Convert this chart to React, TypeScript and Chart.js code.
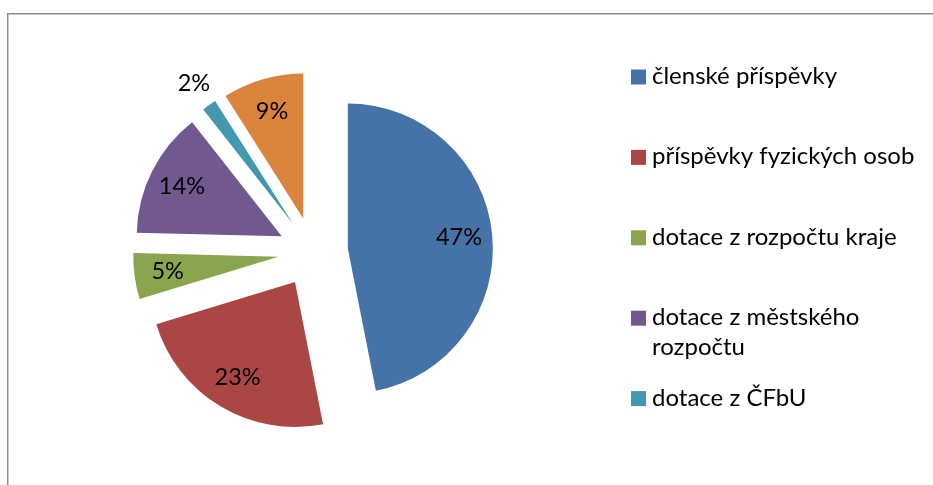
import React, { useEffect, useRef } from "react";
import { Chart, registerables } from "chart.js";

Chart.register(...registerables);

// ---- data ----
const categories = [
  "členské příspěvky",
  "příspěvky fyzických osob",
  "dotace z rozpočtu kraje",
  "dotace z městského rozpočtu",
  "dotace z ČFbU",
  "ostatní",
];
const values = [46.9, 23.4, 5.1, 14.0, 1.6, 9.0];
const colors = ["#4572A7", "#AA4643", "#89A54E", "#71588F", "#4198AF", "#DB843D"];
const legendVisibleCount = 5;

// ---- layout / style ----
const W = 933;
const H = 485;
const RADIUS = 145;
const EXPLODE = 35;
const FONT_FAMILY = "Lato, 'Liberation Sans', sans-serif";
const LABEL_FONT = `23.5px ${FONT_FAMILY}`;
const LEGEND_FONT = `24px ${FONT_FAMILY}`;
const LEG_X = 631;
const LEG_TOP = 77;
const LEG_STEP = 80.4;
const LEG_BOX = 15;
const LEG_TEXT_GAP = 6;
const LEG_LINE_H = 30;
const LEG_MAX_W = 276;

const total = values.reduce((a, b) => a + b, 0);

const framePlugin = {
  id: "frame",
  beforeDraw(chart: any) {
    const ctx = chart.ctx;
    ctx.save();
    ctx.fillStyle = "#ffffff";
    ctx.fillRect(0, 0, W, H);
    ctx.fillStyle = "#8c8c8c";
    ctx.fillRect(7, 13, W - 7, 1);
    ctx.fillRect(7, 13, 1, H - 13);
    ctx.fillStyle = "#c4c4c4";
    ctx.fillRect(8, 14, W - 8, 1);
    ctx.fillRect(8, 14, 1, H - 14);
    ctx.restore();
  },
};

// Chart.js grows an exploded arc's radius by r = (offset/4)*(1 - sin(c)) and trims its angle by r/(PI*R);
// undo both so every slice keeps the same radius and its true angle, only shifted outward.
const explodeFixPlugin = {
  id: "explodeFix",
  beforeDatasetsDraw(chart: any) {
    const meta = chart.getDatasetMeta(0);
    meta.data.forEach((arc: any) => {
      if (arc.$fixed) return;
      const c = arc.circumference;
      const fix = 1 - Math.sin(Math.min(Math.PI, c));
      const r = EXPLODE * fix;
      arc.outerRadius = RADIUS - r;
      const delta = r / (2 * Math.PI * RADIUS);
      arc.startAngle = arc.startAngle - delta;
      arc.endAngle = arc.endAngle + delta;
      arc.$fixed = true;
    });
  },
};

const labelPlugin = {
  id: "sliceLabels",
  afterDatasetsDraw(chart: any) {
    const ctx = chart.ctx;
    const meta = chart.getDatasetMeta(0);
    ctx.save();
    ctx.font = LABEL_FONT;
    ctx.fillStyle = "#000000";
    ctx.textAlign = "center";
    ctx.textBaseline = "middle";
    meta.data.forEach((arc: any, i: number) => {
      const { x, y, startAngle, endAngle } = arc;
      const mid = (startAngle + endAngle) / 2;
      const vx = x + Math.cos(mid) * EXPLODE;
      const vy = y + Math.sin(mid) * EXPLODE;
      const pct = (values[i] / total) * 100;
      const f = pct < 3 ? 1.18 : 0.77;
      const lx = vx + Math.cos(mid) * RADIUS * f;
      const ly = vy + Math.sin(mid) * RADIUS * f;
      ctx.fillText(`${Math.round(pct)}%`, lx, ly);
    });
    ctx.restore();
  },
};

function wrap(ctx: CanvasRenderingContext2D, text: string, maxW: number) {
  const words = text.split(" ");
  const lines: string[] = [];
  let cur = "";
  for (const w of words) {
    const t = cur ? cur + " " + w : w;
    if (cur && ctx.measureText(t).width > maxW) {
      lines.push(cur);
      cur = w;
    } else {
      cur = t;
    }
  }
  if (cur) lines.push(cur);
  return lines;
}

const legendPlugin = {
  id: "sideLegend",
  afterDraw(chart: any) {
    const ctx = chart.ctx;
    ctx.save();
    ctx.font = LEGEND_FONT;
    ctx.textAlign = "left";
    ctx.textBaseline = "alphabetic";
    for (let i = 0; i < Math.min(legendVisibleCount, categories.length); i++) {
      const cy = LEG_TOP + i * LEG_STEP;
      ctx.fillStyle = colors[i];
      ctx.fillRect(LEG_X, cy - LEG_BOX / 2, LEG_BOX, LEG_BOX);
      ctx.fillStyle = "#000000";
      const lines = wrap(ctx, categories[i], LEG_MAX_W);
      lines.forEach((ln, k) => {
        ctx.fillText(ln, LEG_X + LEG_BOX + LEG_TEXT_GAP, cy + 7 + k * LEG_LINE_H);
      });
    }
    ctx.restore();
  },
};

export default function App() {
  const ref = useRef<HTMLCanvasElement | null>(null);
  useEffect(() => {
    if (!ref.current) return;
    const chart = new Chart(ref.current, {
      type: "pie",
      data: {
        labels: categories,
        datasets: [
          {
            data: values,
            backgroundColor: colors,
            borderWidth: 0,
            hoverBorderWidth: 0,
            hoverOffset: 0,
            offset: EXPLODE * 4,
          } as any,
        ],
      },
      options: {
        responsive: false,
        animation: false,
        radius: RADIUS,
        layout: { padding: { left: 100, right: 407, top: 40, bottom: 21 } },
        plugins: {
          legend: { display: false },
          tooltip: { enabled: false },
        },
        events: [],
      } as any,
      plugins: [framePlugin, explodeFixPlugin, labelPlugin, legendPlugin],
    });
    return () => chart.destroy();
  }, []);
  return (
    <div style={{ position: "absolute", left: 0, top: 0, width: W, height: H }}>
      <canvas ref={ref} width={W} height={H} style={{ display: "block" }} />
    </div>
  );
}
